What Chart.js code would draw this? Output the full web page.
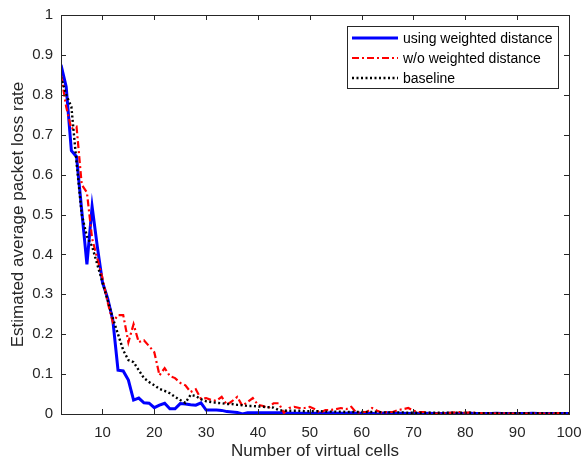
<!DOCTYPE html>
<html>
<head>
<meta charset="utf-8">
<script src="https://cdn.jsdelivr.net/npm/chart.js@4.4.1/dist/chart.umd.min.js"></script>
<style>
  html, body { margin: 0; padding: 0; background: #fff; }
  #c { display: block; }
</style>
</head>
<body>
<canvas id="c" width="584" height="463"></canvas>
<script>
// ---------------- DATA ----------------
const cells = [
  2, 3, 4, 5, 6, 7, 8, 9, 10, 11,
  12, 13, 14, 15, 16, 17, 18, 19, 20, 21,
  22, 23, 24, 25, 26, 27, 28, 29, 30, 31,
  32, 33, 34, 35, 36, 37, 38, 39, 40, 41,
  42, 43, 44, 45, 46, 47, 48, 49, 50, 51,
  52, 53, 54, 55, 56, 57, 58, 59, 60, 61,
  62, 63, 64, 65, 66, 67, 68, 69, 70, 71,
  72, 73, 74, 75, 76, 77, 78, 79, 80, 81,
  82, 83, 84, 85, 86, 87, 88, 89, 90, 91,
  92, 93, 94, 95, 96, 97, 98, 99, 100
];

const usingWeighted = [
  0.875, 0.82, 0.66, 0.645, 0.51, 0.375, 0.52, 0.42, 0.33, 0.29,
  0.235, 0.11, 0.108, 0.085, 0.035, 0.04, 0.028, 0.027, 0.016, 0.022,
  0.027, 0.013, 0.013, 0.026, 0.025, 0.023, 0.022, 0.028, 0.01, 0.01,
  0.01, 0.009, 0.006, 0.005, 0.004, 0.0, 0.003, 0.003, 0.003, 0.003,
  0.003, 0.003, 0.003, 0.003, 0.002, 0.002, 0.002, 0.002, 0.002, 0.002,
  0.002, 0.002, 0.003, 0.002, 0.002, 0.002, 0.003, 0.002, 0.002, 0.001,
  0.002, 0.0, 0.002, 0.003, 0.002, 0.002, 0.002, 0.001, 0.002, 0.001,
  0.001, 0.002, 0.001, 0.001, 0.001, 0.002, 0.001, 0.001, 0.001, 0.002,
  0.001, 0.001, 0.001, 0.001, 0.002, 0.001, 0.001, 0.001, 0.001, 0.001,
  0.001, 0.002, 0.001, 0.001, 0.001, 0.001, 0.001, 0.001, 0.001
];

const withoutWeighted = [
  0.85, 0.77, 0.715, 0.72, 0.575, 0.555, 0.44, 0.39, 0.34, 0.28,
  0.23, 0.248, 0.248, 0.18, 0.225, 0.18, 0.185, 0.17, 0.155, 0.097,
  0.115, 0.095, 0.09, 0.078, 0.072, 0.055, 0.062, 0.038, 0.04, 0.035,
  0.033, 0.043, 0.023, 0.032, 0.043, 0.02, 0.03, 0.04, 0.023, 0.02,
  0.015, 0.027, 0.027, 0.003, 0.015, 0.018, 0.015, 0.015, 0.018, 0.012,
  0.003, 0.01, 0.01, 0.012, 0.015, 0.012, 0.018, 0.003, 0.005, 0.005,
  0.015, 0.008, 0.003, 0.005, 0.005, 0.01, 0.012, 0.015, 0.008, 0.005,
  0.005, 0.003, 0.001, 0.001, 0.002, 0.003, 0.004, 0.005, 0.003, 0.004,
  0.003, 0.002, 0.001, 0.002, 0.001, 0.001, 0.002, 0.001, 0.001, 0.002,
  0.001, 0.001, 0.002, 0.001, 0.001, 0.001, 0.002, 0.001, 0.001
];

const baseline = [
  0.845, 0.8, 0.77, 0.63, 0.5, 0.445, 0.42, 0.375, 0.33, 0.285,
  0.24, 0.2, 0.16, 0.135, 0.13, 0.11, 0.09, 0.08, 0.072, 0.063,
  0.058, 0.052, 0.043, 0.035, 0.028, 0.048, 0.045, 0.037, 0.032, 0.03,
  0.028, 0.027, 0.025, 0.025, 0.023, 0.022, 0.02, 0.02, 0.019, 0.018,
  0.017, 0.016, 0.01, 0.008, 0.008, 0.008, 0.008, 0.007, 0.007, 0.007,
  0.007, 0.006, 0.006, 0.006, 0.006, 0.005, 0.005, 0.005, 0.005, 0.005,
  0.005, 0.005, 0.004, 0.004, 0.004, 0.004, 0.004, 0.003, 0.003, 0.003,
  0.003, 0.003, 0.003, 0.003, 0.003, 0.003, 0.003, 0.003, 0.003, 0.003,
  0.002, 0.002, 0.002, 0.002, 0.002, 0.002, 0.002, 0.002, 0.002, 0.002,
  0.002, 0.002, 0.002, 0.002, 0.002, 0.002, 0.002, 0.002, 0.002
];

const seriesNames = ['using weighted distance', 'w/o weighted distance', 'baseline'];
const xTickValues = [10, 20, 30, 40, 50, 60, 70, 80, 90, 100];
const xTickLabels = ['10', '20', '30', '40', '50', '60', '70', '80', '90', '100'];
const yTickValues = [0, 0.1, 0.2, 0.3, 0.4, 0.5, 0.6, 0.7, 0.8, 0.9, 1];
const yTickLabels = ['0', '0.1', '0.2', '0.3', '0.4', '0.5', '0.6', '0.7', '0.8', '0.9', '1'];
const xTitle = 'Number of virtual cells';
const yTitle = 'Estimated average packet loss rate';

// ---------------- CHART ----------------
const FONT = "'Liberation Sans', Arial, Helvetica, sans-serif";
const AXIS_COLOR = '#262626';

function pts(arr) { return cells.map((c, i) => ({ x: c, y: arr[i] })); }

const frame = {
  id: 'matlabFrame',
  afterDatasetsDraw(chart) {
    const ctx = chart.ctx;
    const a = chart.chartArea;
    const xs = chart.scales.x, ys = chart.scales.y;
    ctx.save();
    ctx.strokeStyle = AXIS_COLOR;
    ctx.lineWidth = 1;
    ctx.beginPath();
    const tl = 5;
    xTickValues.forEach(v => {
      const p = Math.round(xs.getPixelForValue(v)) + 0.5;
      ctx.moveTo(p, a.bottom); ctx.lineTo(p, a.bottom - tl);
      ctx.moveTo(p, a.top); ctx.lineTo(p, a.top + tl);
    });
    yTickValues.forEach(v => {
      const p = Math.round(ys.getPixelForValue(v)) + 0.5;
      ctx.moveTo(a.left, p); ctx.lineTo(a.left + tl, p);
      ctx.moveTo(a.right, p); ctx.lineTo(a.right - tl, p);
    });
    ctx.stroke();
    ctx.strokeRect(Math.round(a.left) + 0.5, Math.round(a.top) + 0.5,
                   Math.round(a.right - a.left), Math.round(a.bottom - a.top));

    // legend (inside, top-right)
    const bx = a.right - 222, by = a.top + 11, bw = 211, bh = 62;
    ctx.fillStyle = '#fff';
    ctx.fillRect(bx, by, bw, bh);
    ctx.strokeStyle = AXIS_COLOR;
    ctx.strokeRect(bx + 0.5, by + 0.5, bw, bh);
    ctx.font = '14px ' + FONT;
    ctx.textBaseline = 'middle';
    ctx.textAlign = 'left';
    chart.data.datasets.forEach((ds, i) => {
      const y = by + 12 + i * 20;
      ctx.save();
      ctx.strokeStyle = ds.borderColor;
      ctx.lineWidth = ds.borderWidth;
      ctx.setLineDash(ds.borderDash || []);
      ctx.beginPath();
      ctx.moveTo(bx + 5, y);
      ctx.lineTo(bx + 51, y);
      ctx.stroke();
      ctx.restore();
      ctx.fillStyle = '#000';
      ctx.fillText(ds.label, bx + 56, y + 1);
    });
    ctx.restore();
  }
};

new Chart(document.getElementById('c'), {
  type: 'line',
  data: {
    datasets: [
      { label: seriesNames[0], data: pts(usingWeighted), borderColor: '#0000ff', borderWidth: 3, order: 3 },
      { label: seriesNames[1], data: pts(withoutWeighted), borderColor: '#ff0000', borderWidth: 2.2, borderDash: [7, 3, 2, 3], order: 2 },
      { label: seriesNames[2], data: pts(baseline), borderColor: '#000000', borderWidth: 2.4, borderDash: [2, 2.5], order: 1 }
    ]
  },
  options: {
    responsive: false,
    animation: false,
    devicePixelRatio: 1,
    layout: { padding: { top: 15, right: 15, left: 0, bottom: 0 } },
    elements: { point: { radius: 0 }, line: { tension: 0, fill: false, borderCapStyle: 'butt' } },
    plugins: { legend: { display: false }, tooltip: { enabled: false } },
    scales: {
      x: {
        type: 'linear', min: 2, max: 100,
        afterBuildTicks: s => { s.ticks = xTickValues.map(v => ({ value: v })); },
        afterFit: s => { s.height = 49; s.paddingLeft = 0; s.paddingRight = 0; },
        grid: { display: false, drawTicks: false },
        border: { display: false },
        ticks: {
          autoSkip: false, maxRotation: 0, padding: 10, color: AXIS_COLOR,
          font: { family: FONT, size: 15 },
          callback: (v) => { const i = xTickValues.indexOf(v); return i >= 0 ? xTickLabels[i] : ''; }
        },
        title: { display: true, text: xTitle, color: AXIS_COLOR, font: { family: FONT, size: 17 }, padding: { top: 0, bottom: 1 } }
      },
      y: {
        min: 0, max: 1,
        afterBuildTicks: s => { s.ticks = yTickValues.map(v => ({ value: v })); },
        afterFit: s => { s.width = 61; s.paddingTop = 0; s.paddingBottom = 0; },
        grid: { display: false, drawTicks: false },
        border: { display: false },
        ticks: {
          autoSkip: false, padding: 8, color: AXIS_COLOR,
          font: { family: FONT, size: 15 },
          callback: (v) => { const i = yTickValues.findIndex(t => Math.abs(t - v) < 1e-9); return i >= 0 ? yTickLabels[i] : ''; }
        },
        title: { display: true, text: yTitle, color: AXIS_COLOR, font: { family: FONT, size: 17 }, padding: { top: 8, bottom: 0 } }
      }
    }
  },
  plugins: [frame]
});
</script>
</body>
</html>
